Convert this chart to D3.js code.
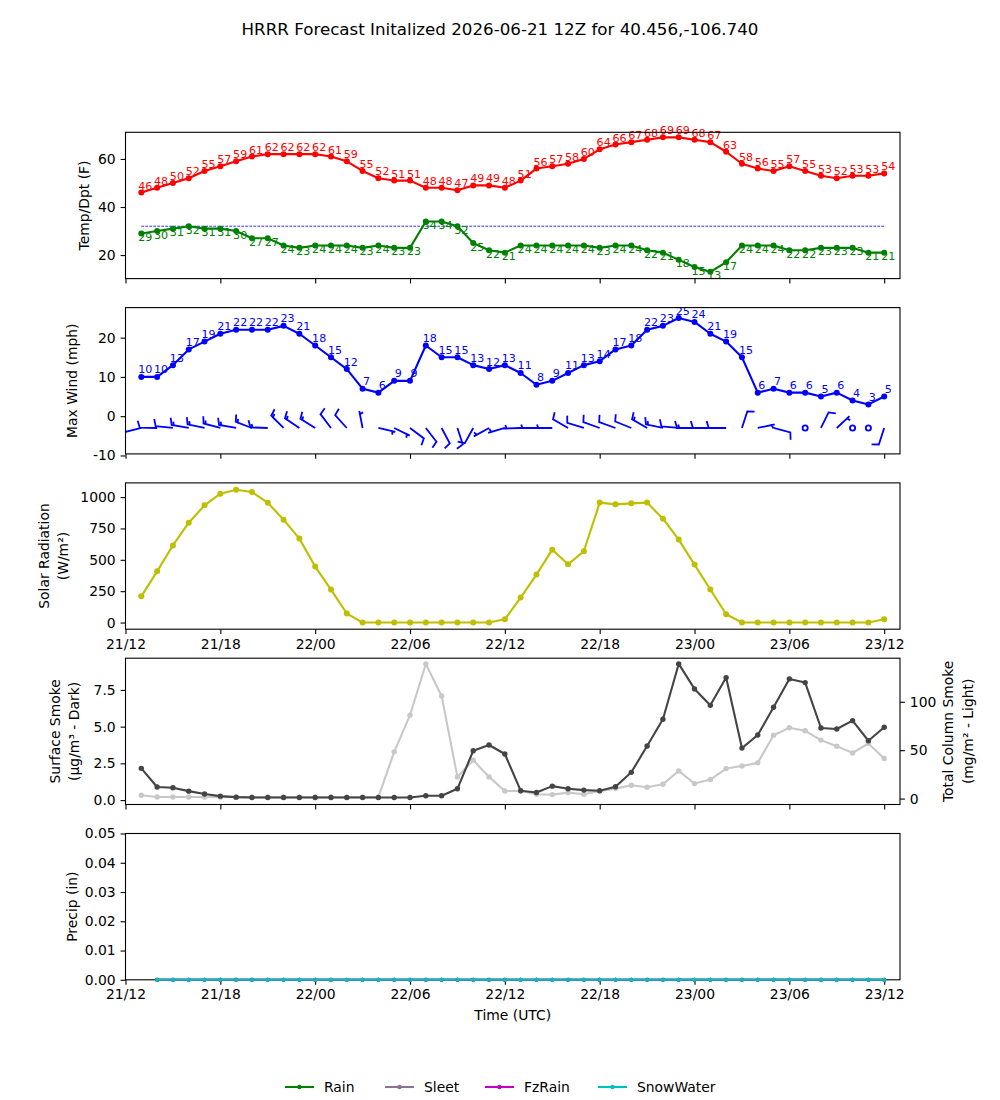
<!DOCTYPE html>
<html><head><meta charset="utf-8">
<script src="https://cdn.jsdelivr.net/npm/d3@7"></script>
<style>body{margin:0;background:#fff} text{font-family:"DejaVu Sans",sans-serif}</style>
</head><body>
<svg id="chart" width="1000" height="1100"></svg>
<script>
// ---------- data ----------
const hours = [1,2,3,4,5,6,7,8,9,10,11,12,13,14,15,16,17,18,19,20,21,22,23,24,25,26,27,28,29,30,31,32,33,34,35,36,37,38,39,40,41,42,43,44,45,46,47,48];
const tickHours = [0,6,12,18,24,30,36,42,48];
const tickLabels = ["21/12","21/18","22/00","22/06","22/12","22/18","23/00","23/06","23/12"];
const temp = [46,48,50,52,55,57,59,61,62,62,62,62,61,59,55,52,51,51,48,48,47,49,49,48,51,56,57,58,60,64,66,67,68,69,69,68,67,63,58,56,55,57,55,53,52,53,53,54];
const dewpt = [29,30,31,32,31,31,30,27,27,24,23,24,24,24,23,24,23,23,34,34,32,25,22,21,24,24,24,24,24,23,24,24,22,21,18,15,13,17,24,24,24,22,22,23,23,23,21,21];
const freezing = 32;
const maxWind = [10,10,13,17,19,21,22,22,22,23,21,18,15,12,7,6,9,9,18,15,15,13,12,13,11,8,9,11,13,14,17,18,22,23,25,24,21,19,15,6,7,6,6,5,6,4,3,5];
const barbDir = [256,271,276,280,282,285,280,291,272,315,304,302,323,318,349,103,116,127,142,152,162,209,241,254,268,270,270,300,287,290,290,292,300,282,275,270,270,270,18,78,105,null,0,26,47,0,0,198];
const barbSpd = [10,10,10,15,15,15,15,15,15,15,15,15,10,10,5,5,5,10,10,10,10,10,5,5,5,5,5,10,10,10,10,10,15,15,10,15,10,10,10,5,10,null,1,10,5,1,1,10];
const barbLevel = -3;
const solar = [209,408,615,796,934,1027,1059,1040,955,820,669,446,263,72,0,0,0,0,0,0,0,0,0,26,199,382,581,464,568,956,942,950,956,828,661,462,263,66,0,0,0,0,0,0,0,0,0,26];
const smokeSfc = [2.16,0.89,0.84,0.61,0.41,0.27,0.2,0.18,0.18,0.18,0.18,0.18,0.18,0.18,0.18,0.18,0.18,0.18,0.3,0.3,0.77,3.36,3.75,3.14,0.64,0.52,0.95,0.77,0.68,0.64,0.91,1.89,3.68,5.5,9.27,7.57,6.45,8.34,3.54,4.43,6.32,8.25,8.0,4.91,4.84,5.41,4.04,4.96];
const smokeCol = [3.4,1.7,1.7,1.7,1.7,1.5,1.5,1.5,1.5,1.5,1.5,1.5,1.5,1.5,1.5,1.5,48.3,86.2,139,105.9,22.4,39.7,22.4,7.9,7.9,4.5,4.1,6.2,4.5,7.9,10.3,13.8,11.7,14.8,28.6,15.5,19.7,31,33.7,36.9,65.5,73.1,70,60.4,54.1,47.2,56.9,41.4];
const precipHours = [2,3,4,5,6,7,8,9,10,11,12,13,14,15,16,17,18,19,20,21,22,23,24,25,26,27,28,29,30,31,32,33,34,35,36,37,38,39,40,41,42,43,44,45,46,47,48];
const rain      = [0,0,0,0,0,0,0,0,0,0,0,0,0,0,0,0,0,0,0,0,0,0,0,0,0,0,0,0,0,0,0,0,0,0,0,0,0,0,0,0,0,0,0,0,0,0,0];
const sleet     = [0,0,0,0,0,0,0,0,0,0,0,0,0,0,0,0,0,0,0,0,0,0,0,0,0,0,0,0,0,0,0,0,0,0,0,0,0,0,0,0,0,0,0,0,0,0,0];
const fzrain    = [0,0,0,0,0,0,0,0,0,0,0,0,0,0,0,0,0,0,0,0,0,0,0,0,0,0,0,0,0,0,0,0,0,0,0,0,0,0,0,0,0,0,0,0,0,0,0];
const snowwater = [0,0,0,0,0,0,0,0,0,0,0,0,0,0,0,0,0,0,0,0,0,0,0,0,0,0,0,0,0,0,0,0,0,0,0,0,0,0,0,0,0,0,0,0,0,0,0];
const precipSeries = [
  {name:"Rain", values:rain, color:"#008000"},
  {name:"Sleet", values:sleet, color:"#8a7390"},
  {name:"FzRain", values:fzrain, color:"#bf00bf"},
  {name:"SnowWater", values:snowwater, color:"#00bfbf"}
];

// ---------- layout ----------
const svg = d3.select("#chart");
const X0 = 125.5, X1 = 900, PH = 146.3;
const tops = [132.3, 307.6, 482.9, 658.2, 833.5];
const x = d3.scaleLinear().domain([0,49]).range([X0, X1]);
const FS = 13.9;

svg.append("text").attr("x",500).attr("y",35).attr("text-anchor","middle")
  .attr("font-size",16.7).text("HRRR Forecast Initalized 2026-06-21 12Z for 40.456,-106.740");

function yScale(i, dom){ return d3.scaleLinear().domain(dom).range([tops[i]+PH, tops[i]]); }
const y1 = yScale(0,[10.2,71.1]);
const y2 = yScale(1,[-9.6,27.65]);
const y3 = yScale(2,[-53,1113]);
const y4 = yScale(3,[-0.3,9.66]);
const y4r = yScale(3,[-6.1,145]);
const y5 = yScale(4,[0,0.05]);

const defs = svg.append("defs");
tops.forEach((t,i)=>{
  defs.append("clipPath").attr("id","clip"+i).append("rect")
    .attr("x",X0).attr("y",t).attr("width",X1-X0).attr("height",PH);
});

function styleAxis(s){
  s.select(".domain").remove();
  s.selectAll(".tick line").attr("stroke","#000").attr("stroke-width",1.1);
  s.selectAll(".tick text").attr("font-size",FS).attr("fill","#000").attr("font-family","DejaVu Sans");
  s.attr("font-family","DejaVu Sans");
}

function drawAxes(i, ys, yTicks, yFmt, showX){
  const t = tops[i];
  const gy = svg.append("g").attr("transform",`translate(${X0},0)`)
    .call(d3.axisLeft(ys).tickValues(yTicks).tickFormat(yFmt).tickSize(4.9).tickPadding(4.9));
  styleAxis(gy);
  const gx = svg.append("g").attr("transform",`translate(0,${t+PH})`)
    .call(d3.axisBottom(x).tickValues(tickHours).tickFormat((d,j)=> showX ? tickLabels[j] : "").tickSize(4.9).tickPadding(4.9));
  styleAxis(gx);
}

function frame(i){
  svg.append("rect").attr("x",X0).attr("y",tops[i]).attr("width",X1-X0).attr("height",PH)
    .attr("fill","none").attr("stroke","#000").attr("stroke-width",1.1);
}

function yLabel(lines, xs, i){
  const cy = tops[i]+PH/2;
  lines.forEach((l,j)=>{
    svg.append("text").attr("transform",`translate(${xs[j]},${cy}) rotate(-90)`)
      .attr("text-anchor","middle").attr("dy","0.35em").attr("font-size",FS).text(l);
  });
}

function series(i, xs, vals, ys, color, lw, r, noClip){
  const g = svg.append("g");
  if (!noClip) g.attr("clip-path",`url(#clip${i})`);
  const pts = xs.map((h,k)=>[x(h), ys(vals[k])]);
  g.append("path").attr("d", d3.line()(pts)).attr("fill","none").attr("stroke",color).attr("stroke-width",lw).attr("stroke-linejoin","round");
  g.selectAll(null).data(pts).enter().append("circle").attr("cx",d=>d[0]).attr("cy",d=>d[1]).attr("r",r).attr("fill",color);
  return g;
}

// ---------- Panel 1: Temp / Dewpoint ----------
drawAxes(0, y1, [20,40,60], d=>d, false);
svg.append("line").attr("x1",x(hours[0])).attr("x2",x(hours[hours.length-1]))
  .attr("y1",y1(freezing)).attr("y2",y1(freezing)).attr("stroke","#0000ff").attr("stroke-width",0.8).attr("stroke-dasharray","2.8,1.2");
series(0, hours, temp, y1, "#ff0000", 2.1, 3);
series(0, hours, dewpt, y1, "#008000", 2.1, 3);
const gl1 = svg.append("g");
hours.forEach((h,k)=>{
  gl1.append("text").attr("x",x(h)+4).attr("y",y1(temp[k])-3).attr("text-anchor","middle")
    .attr("font-size",11.1).attr("fill","#ff0000").text(temp[k]);
  gl1.append("text").attr("x",x(h)+4).attr("y",y1(dewpt[k])+7.5).attr("text-anchor","middle")
    .attr("font-size",11.1).attr("fill","#008000").text(dewpt[k]);
});
frame(0);
yLabel(["Temp/Dpt (F)"],[84],0);

// ---------- Panel 2: Wind ----------
drawAxes(1, y2, [-10,0,10,20], d=>d, false);
series(1, hours, maxWind, y2, "#0000ff", 2.1, 3);
const gl2 = svg.append("g");
hours.forEach((h,k)=>{
  gl2.append("text").attr("x",x(h)+4).attr("y",y2(maxWind[k])-3.5).attr("text-anchor","middle")
    .attr("font-size",11.1).attr("fill","#0000ff").text(maxWind[k]);
});
// wind barbs (matplotlib-like geometry)
const BL = 17.36;
const gb = svg.append("g").attr("clip-path","url(#clip1)");
hours.forEach((h,k)=>{
  const dir = barbDir[k], spd = barbSpd[k];
  if (dir === null || spd === null) return;
  const bx = x(h), by = y2(barbLevel);
  const spacing = BL*0.125, fh = BL*0.4, fw = BL*0.25, er = BL*0.15;
  let mag = 5*Math.round(spd/5);
  const nflags = Math.floor(mag/50); mag -= nflags*50;
  const nbarb = Math.floor(mag/10); mag -= nbarb*10;
  const half = mag >= 5;
  if (!(half || nflags>0 || nbarb>0)){
    gb.append("circle").attr("cx",bx).attr("cy",by).attr("r",er).attr("fill","none").attr("stroke","#0000ff").attr("stroke-width",1.8);
    return;
  }
  const rad = dir*Math.PI/180;
  const u = -spd*Math.sin(rad), v = -spd*Math.cos(rad);
  const ang = Math.atan2(v,u) + Math.PI/2;
  const pts = [[0,0]];
  let off = BL;
  for (let i=0;i<nflags;i++){
    if (off !== BL) off += spacing/2;
    pts.push([0,off],[fh,off-fw/2],[0,off-fw]);
    off -= fw + spacing;
  }
  for (let i=0;i<nbarb;i++){
    pts.push([0,off],[fh,off+fw/2],[0,off]);
    off -= spacing;
  }
  if (half){
    if (off === BL){ pts.push([0,off]); off -= 1.5*spacing; }
    pts.push([0,off],[fh/2,off+fw/4],[0,off]);
  }
  const c = Math.cos(ang), s = Math.sin(ang);
  const scr = pts.map(([px,py])=>[bx + px*c - py*s, by - (px*s + py*c)]);
  gb.append("path").attr("d", d3.line()(scr)+"Z").attr("fill","none").attr("stroke","#0000ff")
    .attr("stroke-width",1.8).attr("stroke-linejoin","miter");
});
frame(1);
yLabel(["Max Wind (mph)"],[72],1);

// ---------- Panel 3: Solar ----------
drawAxes(2, y3, [0,250,500,750,1000], d=>d, true);
series(2, hours, solar, y3, "#bfbf00", 2.1, 3);
frame(2);
yLabel(["Solar Radiation","(W/m²)"],[44,63],2);

// ---------- Panel 4: Smoke ----------
drawAxes(3, y4, [0,2.5,5,7.5], d3.format(".1f"), false);
const gr = svg.append("g").attr("transform",`translate(${X1},0)`)
  .call(d3.axisRight(y4r).tickValues([0,50,100]).tickFormat(d=>d).tickSize(4.9).tickPadding(4.9));
styleAxis(gr);
series(3, hours, smokeCol, y4r, "#c8c8c8", 2.1, 2.7);
series(3, hours, smokeSfc, y4, "#444444", 2.1, 2.7);
frame(3);
yLabel(["Surface Smoke","(μg/m³ - Dark)"],[55,74],3);
yLabel(["Total Column Smoke","(mg/m² - Light)"],[948,968],3);

// ---------- Panel 5: Precip ----------
drawAxes(4, y5, [0,0.01,0.02,0.03,0.04,0.05], d3.format(".2f"), true);
frame(4);
precipSeries.forEach(ps=> series(4, precipHours, ps.values, y5, ps.color, 2.1, 2, true));
yLabel(["Precip (in)"],[72],4);
svg.append("text").attr("x",(X0+X1)/2).attr("y",1020).attr("text-anchor","middle").attr("font-size",FS).text("Time (UTC)");

// ---------- Legend ----------
const legX = [285, 385, 485, 598];
const lg = svg.append("g");
precipSeries.forEach((ps,i)=>{
  const lx = legX[i], ly = 1087;
  lg.append("line").attr("x1",lx).attr("x2",lx+29).attr("y1",ly).attr("y2",ly).attr("stroke",ps.color).attr("stroke-width",2.1);
  lg.append("circle").attr("cx",lx+14.5).attr("cy",ly).attr("r",2.2).attr("fill",ps.color);
  lg.append("text").attr("x",lx+39).attr("y",ly+5).attr("font-size",FS).text(ps.name);
});
</script>
</body></html>
